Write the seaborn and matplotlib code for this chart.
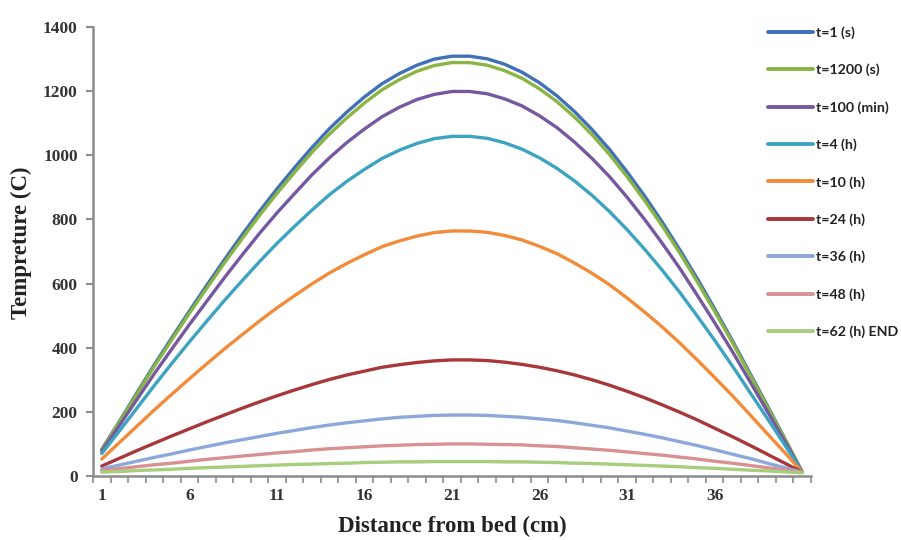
import numpy as np
import pandas as pd
import matplotlib
matplotlib.use("Agg")
import matplotlib.pyplot as plt
import seaborn as sns
from matplotlib.ticker import FixedLocator

# ---------------- data ----------------
distance = list(range(1, 42))

series_names = ["t=1 (s)", "t=1200 (s)", "t=100 (min)", "t=4 (h)", "t=10 (h)",
                "t=24 (h)", "t=36 (h)", "t=48 (h)", "t=62 (h) END"]

t_1s = [83, 170, 259, 347, 431, 514, 595, 674, 751, 825, 895, 961, 1024, 1083, 1135, 1182, 1223, 1255, 1281, 1300, 1309,
        1309, 1301, 1284, 1259, 1226, 1185, 1136, 1080, 1018, 948, 873, 792, 706, 616, 521, 423, 322, 220, 117, 12]
t_1200s = [82, 168, 255, 342, 425, 507, 586, 664, 739, 812, 881, 946, 1009, 1066, 1117, 1163, 1204, 1236, 1262, 1280, 1289,
           1289, 1281, 1264, 1240, 1207, 1167, 1119, 1064, 1002, 933, 859, 780, 696, 606, 513, 417, 317, 216, 116, 12]
t_100min = [77, 157, 238, 319, 396, 472, 545, 618, 688, 756, 820, 880, 939, 992, 1040, 1082, 1120, 1150, 1174, 1190, 1199,
            1199, 1192, 1176, 1154, 1123, 1086, 1041, 990, 933, 869, 800, 726, 648, 564, 478, 389, 296, 202, 108, 12]
t_4h = [70, 140, 211, 282, 351, 418, 483, 547, 608, 668, 725, 778, 829, 877, 919, 956, 990, 1016, 1037, 1052, 1059,
        1059, 1053, 1039, 1019, 992, 959, 920, 875, 824, 768, 707, 642, 573, 499, 423, 344, 262, 180, 97, 12]
t_10h = [53, 104, 155, 206, 255, 303, 350, 396, 440, 483, 524, 562, 599, 633, 663, 690, 715, 733, 748, 759, 764,
         764, 760, 750, 736, 716, 693, 664, 632, 596, 555, 511, 465, 415, 362, 307, 251, 192, 132, 73, 12]
t_24h = [31, 55, 79, 102, 125, 147, 169, 190, 211, 231, 250, 268, 285, 301, 315, 327, 339, 347, 354, 359, 362,
         362, 360, 355, 348, 339, 328, 315, 300, 283, 264, 244, 222, 199, 175, 149, 123, 96, 68, 40, 12]
t_36h = [22, 34, 46, 58, 69, 81, 92, 103, 113, 123, 133, 142, 151, 159, 166, 172, 178, 183, 186, 189, 190,
         190, 189, 186, 183, 178, 173, 166, 158, 150, 140, 130, 119, 107, 95, 82, 68, 55, 40, 26, 12]
t_48h = [17, 23, 29, 35, 40, 46, 52, 57, 62, 67, 72, 76, 81, 85, 88, 91, 94, 96, 98, 99, 100,
         100, 99, 98, 97, 94, 92, 88, 84, 80, 75, 70, 65, 59, 53, 46, 40, 33, 26, 19, 12]
t_62h = [12, 14, 17, 19, 21, 24, 26, 28, 30, 32, 34, 36, 37, 39, 40, 42, 43, 44, 44, 45, 45,
         45, 45, 44, 44, 43, 42, 40, 39, 37, 35, 33, 31, 29, 26, 24, 21, 18, 16, 13, 10]

x_tick_labels = ["1", "6", "11", "16", "21", "26", "31", "36"]
y_ticks = [0, 200, 400, 600, 800, 1000, 1200, 1400]

colors = ["#3F70B8", "#8AB543", "#7558A0", "#3CA3C0", "#F28B3A",
          "#A8373A", "#8AA8DA", "#D99092", "#A6CE7C"]

all_series = [t_1s, t_1200s, t_100min, t_4h, t_10h, t_24h, t_36h, t_48h, t_62h]
frames = []
for name, vals in zip(series_names, all_series):
    frames.append(pd.DataFrame({"x": distance, "T": vals, "series": name}))
df = pd.concat(frames, ignore_index=True)

# ---------------- plot ----------------
sns.set_style("white")
fig = plt.figure(figsize=(9.01, 5.40), dpi=100)
ax = fig.add_axes([93 / 901, 1 - 476 / 540, (811 - 93) / 901, (476 - 27) / 540])

sns.lineplot(data=df, x="x", y="T", hue="series", hue_order=series_names,
             palette=colors, linewidth=2.4, ax=ax, legend=True, sort=False)

ax.set_xlim(0.5, 41.5)
ax.set_ylim(0, 1400)

axis_col = "#8C8C8C"
for s in ["top", "right"]:
    ax.spines[s].set_visible(False)
for s in ["left", "bottom"]:
    ax.spines[s].set_color(axis_col)
    ax.spines[s].set_linewidth(1.8)

serif = "Liberation Serif"
ax.set_yticks(y_ticks)
ax.set_yticklabels([str(v) for v in y_ticks], fontfamily=serif, fontsize=12.5,
                   fontweight="bold", color="#333333")
ax.tick_params(axis="y", which="major", length=5, width=1.5, color=axis_col,
               direction="out", pad=6, left=True)

ax.xaxis.set_major_locator(FixedLocator([int(v) for v in x_tick_labels]))
ax.set_xticklabels(x_tick_labels, fontfamily=serif, fontsize=12.5,
                   fontweight="bold", color="#333333")
ax.xaxis.set_minor_locator(FixedLocator([k + 0.5 for k in range(0, 42)]))
ax.tick_params(axis="x", which="major", length=0, pad=9, bottom=True)
ax.tick_params(axis="x", which="minor", length=5, width=1.2, color=axis_col,
               direction="out", bottom=True)

ax.set_xlabel("Distance from bed (cm)", fontfamily=serif, fontsize=16.5,
              fontweight="bold", color="#222222", labelpad=8)
ax.set_ylabel("Tempreture (C)", fontfamily=serif, fontsize=16.5,
              fontweight="bold", color="#222222")
ax.yaxis.set_label_coords(-0.085, 0.52)
ax.grid(False)

handles, labels = ax.get_legend_handles_labels()
ax.legend_.remove()
leg = fig.legend(handles, labels, loc="upper left",
                 bbox_to_anchor=(768 / 901, 1 - 26 / 540),
                 frameon=False, prop={"family": "Lato", "size": 10.2, "weight": "bold"},
                 handlelength=3.2, handletextpad=0.2, labelspacing=1.75,
                 borderpad=0, borderaxespad=0)
for line in leg.get_lines():
    line.set_linewidth(2.8)
for txt in leg.get_texts():
    txt.set_color("#222222")

fig.savefig("out.png", dpi=100)
